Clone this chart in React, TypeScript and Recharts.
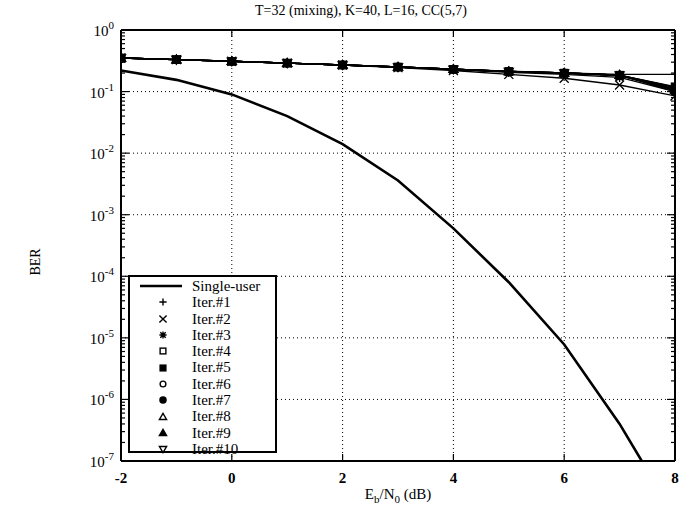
import React from "react";
import { LineChart, Line, XAxis, YAxis, ReferenceLine, Legend } from "recharts";

const ebN0 = [-2, -1, 0, 1, 2, 3, 4, 5, 6, 7, 8];
const singleUserX = [-2, -1, 0, 1, 2, 3, 4, 5, 6, 7, 7.4];
const singleUser = [0.22, 0.155, 0.09, 0.04, 0.014, 0.0036, 0.0006, 0.00008, 0.0000078, 0.0000004, 0.0000001];

const iter1 = [0.35, 0.33, 0.31, 0.29, 0.27, 0.25, 0.23, 0.215, 0.2, 0.19, 0.19];
const iter2 = [0.35, 0.33, 0.31, 0.29, 0.27, 0.245, 0.22, 0.19, 0.165, 0.128, 0.085];
const iter3 = [0.35, 0.33, 0.31, 0.29, 0.27, 0.25, 0.228, 0.205, 0.19, 0.17, 0.1];
const iter4 = [0.35, 0.33, 0.31, 0.29, 0.27, 0.25, 0.23, 0.21, 0.198, 0.18, 0.11];
const iter5 = [0.35, 0.33, 0.31, 0.29, 0.27, 0.25, 0.23, 0.212, 0.2, 0.185, 0.12];
const iter6 = [0.35, 0.33, 0.31, 0.29, 0.27, 0.25, 0.23, 0.212, 0.2, 0.185, 0.118];
const iter7 = [0.35, 0.33, 0.31, 0.29, 0.27, 0.25, 0.23, 0.212, 0.2, 0.185, 0.115];
const iter8 = [0.35, 0.33, 0.31, 0.29, 0.27, 0.25, 0.23, 0.212, 0.2, 0.185, 0.11];
const iter9 = [0.35, 0.33, 0.31, 0.29, 0.27, 0.25, 0.23, 0.212, 0.2, 0.185, 0.105];
const iter10 = [0.35, 0.33, 0.31, 0.29, 0.27, 0.25, 0.23, 0.212, 0.2, 0.185, 0.1];

const xTicks = [-2, 0, 2, 4, 6, 8];
const xGrid = [0, 2, 4, 6];
const yExponents = [-7, -6, -5, -4, -3, -2, -1, 0];
const yGrid = [1e-6, 1e-5, 1e-4, 1e-3, 1e-2, 1e-1];
const yTicks: number[] = [];
yExponents.forEach((e) => {
  yTicks.push(Math.pow(10, e));
  if (e < 0) for (let m = 2; m < 10; m++) yTicks.push(m * Math.pow(10, e));
});

const iterSeries = [
  { name: "Iter.#1", values: iter1, mark: "plus" },
  { name: "Iter.#2", values: iter2, mark: "cross" },
  { name: "Iter.#3", values: iter3, mark: "star" },
  { name: "Iter.#4", values: iter4, mark: "square" },
  { name: "Iter.#5", values: iter5, mark: "fsquare" },
  { name: "Iter.#6", values: iter6, mark: "circle" },
  { name: "Iter.#7", values: iter7, mark: "fcircle" },
  { name: "Iter.#8", values: iter8, mark: "triangle" },
  { name: "Iter.#9", values: iter9, mark: "ftriangle" },
  { name: "Iter.#10", values: iter10, mark: "dtriangle" },
]

// filled markers end up on top in the scan, so draw them last
const drawOrder = [9, 7, 5, 3, 2, 1, 0, 8, 6, 4]

const FONT = "'Liberation Serif', 'DejaVu Serif', serif"

function Marker({ kind, cx, cy, s, w = 1.3 }: { kind: string; cx: number; cy: number; s: number; w?: number }) {
  const st = { stroke: "#000", strokeWidth: w }
  switch (kind) {
    case "plus":
      return <path d={`M${cx - s},${cy}H${cx + s}M${cx},${cy - s}V${cy + s}`} {...st} />
    case "cross":
      return <path d={`M${cx - s},${cy - s}L${cx + s},${cy + s}M${cx + s},${cy - s}L${cx - s},${cy + s}`} {...st} />
    case "star":
      return (
        <path
          d={`M${cx - s},${cy}H${cx + s}M${cx},${cy - s}V${cy + s}M${cx - s * 0.75},${cy - s * 0.75}L${cx + s * 0.75},${cy + s * 0.75}M${cx + s * 0.75},${cy - s * 0.75}L${cx - s * 0.75},${cy + s * 0.75}`}
          {...st}
        />
      )
    case "square":
      return <rect x={cx - s * 0.8} y={cy - s * 0.8} width={s * 1.6} height={s * 1.6} fill="#fff" {...st} />
    case "fsquare":
      return <rect x={cx - s * 0.8} y={cy - s * 0.8} width={s * 1.6} height={s * 1.6} fill="#000" {...st} />
    case "circle":
      return <circle cx={cx} cy={cy} r={s * 0.8} fill="#fff" {...st} />
    case "fcircle":
      return <circle cx={cx} cy={cy} r={s * 0.85} fill="#000" {...st} />
    case "triangle":
      return <polygon points={`${cx},${cy - s} ${cx - s},${cy + s * 0.7} ${cx + s},${cy + s * 0.7}`} fill="#fff" {...st} />
    case "ftriangle":
      return <polygon points={`${cx},${cy - s} ${cx - s},${cy + s * 0.7} ${cx + s},${cy + s * 0.7}`} fill="#000" {...st} />
    case "dtriangle":
      return <polygon points={`${cx},${cy + s} ${cx - s},${cy - s * 0.7} ${cx + s},${cy - s * 0.7}`} fill="#fff" {...st} />
  }
  return null
}

const isMajor = (v: number) => Math.abs(Math.log10(v) - Math.round(Math.log10(v))) < 1e-6

function LeftTick(props: any) {
  const { x, y, payload } = props
  const v = payload.value
  const major = isMajor(v)
  return (
    <g>
      <line x1={x} x2={x + (major ? 8 : 4)} y1={y} y2={y} stroke="#000" strokeWidth={1.2} />
      {major && (
        <text x={x - 7} y={y + 6} textAnchor="end" fontSize={15} fontFamily={FONT} fill="#000">
          <tspan>10</tspan>
          <tspan dy={-7} fontSize={11}>{Math.round(Math.log10(v))}</tspan>
        </text>
      )}
    </g>
  )
}

function RightTick(props: any) {
  const { x, y, payload } = props
  const major = isMajor(payload.value)
  return <line x1={x} x2={x - (major ? 8 : 4)} y1={y} y2={y} stroke="#000" strokeWidth={1.2} />
}

function BottomTick(props: any) {
  const { x, y, payload } = props
  return (
    <g>
      <line x1={x} x2={x} y1={y} y2={y - 7} stroke="#000" strokeWidth={1.2} />
      <text x={x} y={y + 22} textAnchor="middle" fontSize={15} fontWeight="bold" fontFamily={FONT} fill="#000">
        {payload.value}
      </text>
    </g>
  )
}

function TopTick(props: any) {
  const { x, y } = props
  return <line x1={x} x2={x} y1={y} y2={y + 7} stroke="#000" strokeWidth={1.2} />
}

function LegendBox() {
  return (
    <div
      style={{
        width: 149,
        height: 178,
        border: "2px solid #000",
        background: "#fff",
        fontFamily: FONT,
        fontSize: 15,
        lineHeight: "16.3px",
        paddingTop: 1,
        boxSizing: "border-box",
      }}
    >
      <div style={{ display: "flex", alignItems: "center", height: 16.3 }}>
        <svg width={62} height={16}>
          <line x1={10} x2={52} y1={8} y2={8} stroke="#000" strokeWidth={2.6} />
        </svg>
        <span>Single-user</span>
      </div>
      {iterSeries.map((s) => (
        <div key={s.name} style={{ display: "flex", alignItems: "center", height: 16.3 }}>
          <svg width={62} height={16}>
            <Marker kind={s.mark} cx={33} cy={8} s={3.6} w={1.4} />
          </svg>
          <span>{s.name}</span>
        </div>
      ))}
    </div>
  )
}

export default function App() {
  const singleData = singleUserX.map((x, i) => ({ x, y: singleUser[i] }))
  return (
    <div style={{ position: "relative", width: 690, height: 508, background: "#fff" }}>
      <style>{`body{margin:0}`}</style>
      <div
        style={{
          position: "absolute",
          left: 361,
          top: 3,
          transform: "translateX(-50%)",
          fontFamily: FONT,
          fontSize: 14,
          whiteSpace: "nowrap",
        }}
      >
        T=32 (mixing), K=40, L=16, CC(5,7)
      </div>
      <div
        style={{
          position: "absolute",
          left: 36,
          top: 262,
          transform: "translate(-50%, -50%) rotate(-90deg)",
          fontFamily: FONT,
          fontSize: 14,
        }}
      >
        BER
      </div>
      <div
        style={{
          position: "absolute",
          left: 398,
          top: 486,
          transform: "translateX(-50%)",
          fontFamily: FONT,
          fontSize: 15,
          whiteSpace: "nowrap",
        }}
      >
        E<sub style={{ fontSize: 11 }}>b</sub>/N<sub style={{ fontSize: 11 }}>0</sub> (dB)
      </div>
      <div style={{ position: "absolute", left: 0, top: 0 }}>
        <LineChart width={690} height={508} margin={{ top: 0, right: 0, bottom: 0, left: 0 }}>
          <XAxis
            dataKey="x"
            type="number"
            domain={[-2, 8]}
            ticks={xTicks}
            height={47}
            tickSize={0}
            tickMargin={0}
            tick={<BottomTick />}
            axisLine={{ stroke: "#000", strokeWidth: 2 }}
            allowDataOverflow
          />
          <XAxis
            xAxisId="top"
            orientation="top"
            dataKey="x"
            type="number"
            domain={[-2, 8]}
            ticks={xTicks}
            height={30}
            tickSize={0}
            tickMargin={0}
            tick={<TopTick />}
            axisLine={{ stroke: "#000", strokeWidth: 2 }}
            allowDataOverflow
          />
          <YAxis
            scale="log"
            type="number"
            domain={[1e-7, 1]}
            ticks={yTicks}
            width={121}
            tickSize={0}
            tickMargin={0}
            tick={<LeftTick />}
            interval={0}
            axisLine={{ stroke: "#000", strokeWidth: 2 }}
            allowDataOverflow
          />
          <YAxis
            yAxisId="right"
            orientation="right"
            scale="log"
            type="number"
            domain={[1e-7, 1]}
            ticks={yTicks}
            width={15}
            tickSize={0}
            tickMargin={0}
            tick={<RightTick />}
            interval={0}
            axisLine={{ stroke: "#000", strokeWidth: 2 }}
            allowDataOverflow
          />
          {yGrid.map((v) => (
            <ReferenceLine key={"y" + v} y={v} stroke="#000" strokeWidth={1} strokeDasharray="1 3" />
          ))}
          {xGrid.map((v) => (
            <ReferenceLine key={"x" + v} x={v} stroke="#000" strokeWidth={1} strokeDasharray="1 3" />
          ))}
          <Line
            data={singleData}
            dataKey="y"
            name="Single-user"
            stroke="#000"
            strokeWidth={2.6}
            dot={false}
            isAnimationActive={false}
          />
          {drawOrder.map((idx) => {
            const s = iterSeries[idx]
            return (
              <Line
                key={s.name}
                data={ebN0.map((x, i) => ({ x, y: s.values[i] }))}
                dataKey="y"
                name={s.name}
                stroke="#000"
                strokeWidth={1.4}
                isAnimationActive={false}
                dot={(p: any) => (
                  <g key={s.name + p.index}>
                    <Marker kind={s.mark} cx={p.cx} cy={p.cy} s={4.5} />
                  </g>
                )}
              />
            )
          })}
          <Legend
            layout="horizontal"
            align="center"
            verticalAlign="middle"
            content={() => <LegendBox />}
            wrapperStyle={{ position: "absolute", left: 128, top: 275, width: 149, height: 178 }}
          />
        </LineChart>
      </div>
    </div>
  )
}
